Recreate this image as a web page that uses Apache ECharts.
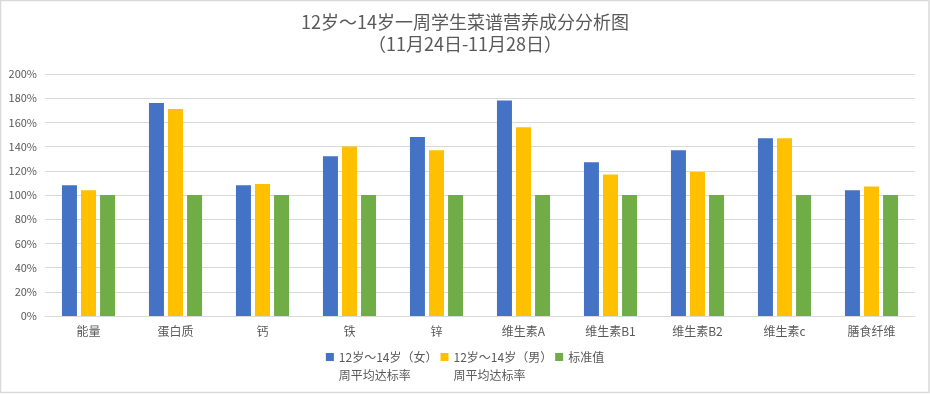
<!DOCTYPE html>
<html>
<head>
<meta charset="utf-8">
<script src="https://cdn.jsdelivr.net/npm/echarts@6/dist/echarts.min.js"></script>
<style>html,body{margin:0;padding:0;background:#fff;}#c{width:930px;height:394px;}</style>
</head>
<body>
<div id="c"></div>
<script>
var categories = ['能量','蛋白质','钙','铁','锌','维生素A','维生素B1','维生素B2','维生素c','膳食纤维'];
var girls = [108, 176, 108, 132, 148, 178, 127, 137, 147, 104];
var boys = [104, 171, 109, 140, 137, 156, 117, 119, 147, 107];
var standard = [100, 100, 100, 100, 100, 100, 100, 100, 100, 100];
var seriesNames = ['12岁～14岁（女）\n周平均达标率', '12岁～14岁（男）\n周平均达标率', '标准值'];
var colors = ['#4472C4', '#FFC000', '#70AD47'];
var titleText = '12岁～14岁一周学生菜谱营养成分分析图\n（11月24日-11月28日）';

var font = '"Noto Sans CJK SC", "Noto Sans", sans-serif';
var chart = echarts.init(document.getElementById('c'), null, {renderer: 'canvas'});
var data = [girls, boys, standard];
chart.setOption({
  animation: false,
  backgroundColor: '#fff',
  color: colors,
  title: {
    text: titleText,
    left: 'center',
    top: 6,
    textStyle: {fontFamily: font, fontSize: 18, fontWeight: 'normal', color: '#595959', lineHeight: 22}
  },
  graphic: [{
    type: 'rect',
    shape: {x: 0.5, y: 0.5, width: 928.5, height: 392},
    style: {fill: 'none', stroke: '#d9d9d9', lineWidth: 1.5},
    silent: true
  }],
  legend: {
    top: 343,
    left: 'center',
    itemWidth: 8,
    itemHeight: 26,
    itemGap: 3,
    icon: 'path://M0,0L8,0L8,8L0,8Z M0,26L0.001,26',
    formatter: function (name) {
      return name.indexOf('\n') < 0 ? name + '\n ' : name;
    },
    textStyle: {fontFamily: font, fontSize: 12, color: '#595959', lineHeight: 18},
    data: seriesNames
  },
  grid: {left: 45, right: 15, top: 74, bottom: 78},
  xAxis: {
    type: 'category',
    data: categories,
    axisLine: {lineStyle: {color: '#d9d9d9', width: 1}},
    axisTick: {show: false},
    axisLabel: {fontFamily: font, fontSize: 12, color: '#595959', margin: 9}
  },
  yAxis: {
    type: 'value',
    min: 0,
    max: 200,
    interval: 20,
    axisLine: {show: false},
    axisTick: {show: false},
    axisLabel: {fontFamily: font, fontSize: 11, color: '#595959', formatter: '{value}%', margin: 8},
    splitLine: {lineStyle: {color: '#d9d9d9', width: 1}}
  },
  series: seriesNames.map(function (n, i) {
    return {
      name: n,
      type: 'bar',
      data: data[i],
      barWidth: 15,
      barGap: '27%',
      itemStyle: {color: colors[i]}
    };
  })
});
</script>
</body>
</html>
